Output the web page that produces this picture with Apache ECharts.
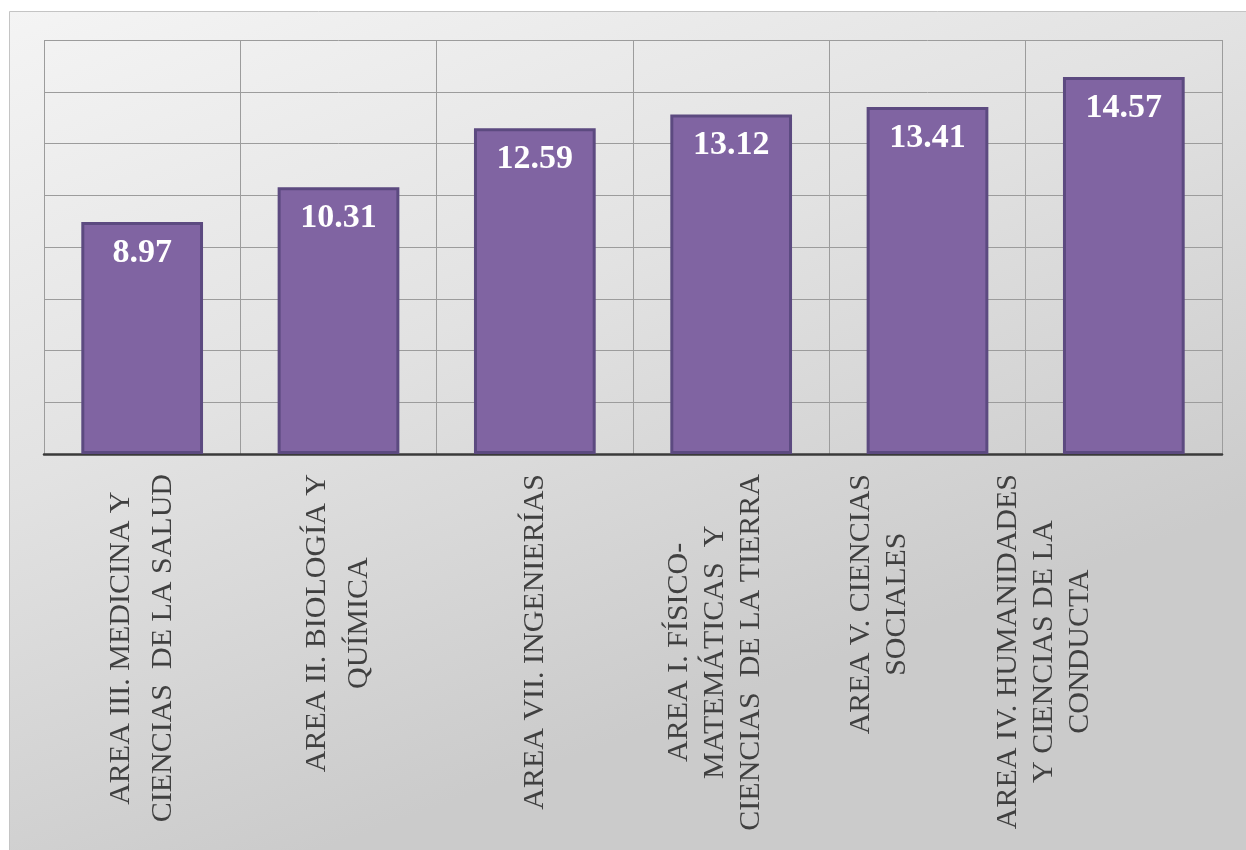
<!DOCTYPE html>
<html>
<head>
<meta charset="utf-8">
<script src="https://cdn.jsdelivr.net/npm/echarts@6/dist/echarts.min.js"></script>
<style>
  html, body { margin: 0; padding: 0; background: #ffffff; }
  #chart { width: 1246px; height: 850px; }
</style>
</head>
<body>
<div id="chart"></div>
<script>
// Areas of knowledge (line breaks as they wrap under the axis)
const categories = [
  'AREA III. MEDICINA Y\nCIENCIAS  DE LA SALUD',
  'AREA II. BIOLOGÍA Y\nQUÍMICA',
  'AREA VII. INGENIERÍAS',
  'AREA I. FÍSICO-\nMATEMÁTICAS  Y\nCIENCIAS  DE LA TIERRA',
  'AREA V. CIENCIAS\nSOCIALES',
  'AREA IV. HUMANIDADES\nY CIENCIAS DE LA\nCONDUCTA'
];

// Value per area
const values = [8.97, 10.31, 12.59, 13.12, 13.41, 14.57];

// Value axis range
const yMin = 0;
const yMax = 16;
const yStep = 2;

const SERIF = '"Liberation Serif", "Times New Roman", serif';

// Per-label styling: line spacing and sideways shift of the wrapped block
const labelLook = [
  { lh: 42, shift: 0 },
  { lh: 42, shift: 0 },
  { lh: 36, shift: 0 },
  { lh: 36, shift: 16 },
  { lh: 36, shift: 48 },
  { lh: 36, shift: 80 }
];

const axisData = categories.map((name, i) => ({
  value: name,
  textStyle: { padding: [0, 0, labelLook[i].shift * 2, 0] }
}));

const chart = echarts.init(document.getElementById('chart'), null, { renderer: 'canvas' });

chart.setOption({
  animation: false,
  backgroundColor: '#ffffff',
  graphic: [{
    type: 'rect',
    left: 9,
    top: 11,
    z: -100,
    silent: true,
    shape: { width: 1237, height: 839 },
    style: {
      fill: {
        type: 'linear', x: 0, y: 0, x2: 0.25, y2: 1,
        colorStops: [
          { offset: 0, color: '#f4f4f4' },
          { offset: 0.5, color: '#e2e2e2' },
          { offset: 1, color: '#cbcbcb' }
        ]
      },
      stroke: '#c4c4c4',
      lineWidth: 1
    }
  }],
  grid: {
    left: 44,
    right: 24,
    top: 40,
    bottom: 396,
    containLabel: false,
    outerBoundsMode: 'none'
  },
  xAxis: {
    type: 'category',
    data: axisData,
    boundaryGap: true,
    axisLine: { show: true, lineStyle: { color: '#3a3a3a', width: 2.5 } },
    axisTick: { show: false },
    splitLine: { show: true, interval: 0, lineStyle: { color: '#9c9c9c', width: 1 } },
    axisLabel: {
      interval: 0,
      rotate: 90,
      margin: 20,
      color: '#404040',
      fontFamily: SERIF,
      fontSize: 30,
      formatter: (val, idx) => {
        const key = labelLook[idx].lh === 42 ? 'w' : 'n';
        return val.split('\n').map(line => '{' + key + '|' + line + '}').join('\n');
      },
      rich: {
        w: { align: 'center', lineHeight: 42, fontFamily: SERIF, fontSize: 30, color: '#404040' },
        n: { align: 'center', lineHeight: 36, fontFamily: SERIF, fontSize: 30, color: '#404040' }
      }
    }
  },
  yAxis: {
    type: 'value',
    min: yMin,
    max: yMax,
    interval: yStep,
    axisLine: { show: false },
    axisTick: { show: false },
    axisLabel: { show: false },
    splitLine: { show: true, lineStyle: { color: '#9c9c9c', width: 1 } }
  },
  series: [{
    type: 'bar',
    data: values,
    barWidth: '62%',
    itemStyle: {
      color: '#8064a2',
      borderColor: '#5c4a80',
      borderWidth: 3
    },
    label: {
      show: true,
      position: 'insideTop',
      distance: 14,
      color: '#ffffff',
      fontFamily: SERIF,
      fontWeight: 'bold',
      fontSize: 34,
      formatter: p => p.value.toFixed(2)
    }
  }]
});
</script>
</body>
</html>
